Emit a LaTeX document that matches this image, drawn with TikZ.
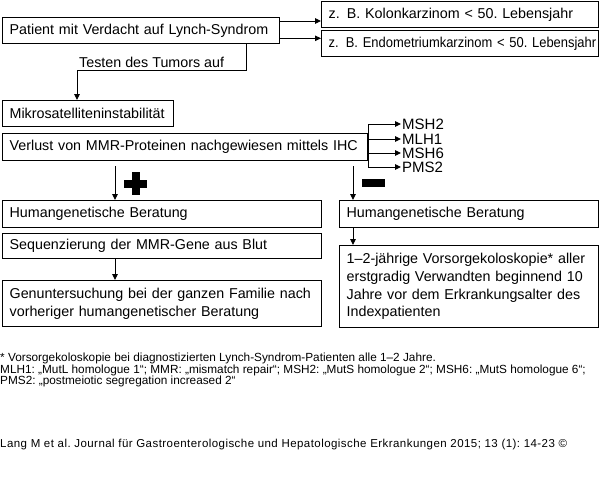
\documentclass[tikz,border=0pt]{standalone}
\usepackage{fontspec}
\setmainfont{Liberation Sans}
\usepackage{tikz}
\usetikzlibrary{arrows.meta,calc}
\frenchspacing

\tikzset{
  box/.style={draw, line width=1.3pt, anchor=north west, align=left,
    inner xsep=7pt, inner ysep=0pt, font=\fontsize{14.3}{17.6}\selectfont},
  arr/.style={line width=0.9pt, -{Triangle[length=6pt,width=5.5pt]}},
  gene/.style={anchor=west, inner sep=1pt, font=\fontsize{15}{15}\selectfont}
}

\begin{document}
\begin{tikzpicture}[x=1pt,y=-1pt]
    \useasboundingbox (0,0) rectangle (600,479);
    % Kasten
    \node [box, text width=263pt, minimum height=26pt] (patient) at (2,17) {Patient mit Verdacht auf Lynch-Syndrom};
    \node [box, text width=263pt, minimum height=26pt] (kolon) at (321,1) {z.\,\ B. Kolonkarzinom < 50. Lebensjahr};
    \node [box, text width=263pt, minimum height=26pt, font=\fontsize{14.3}{15}\selectfont\addfontfeature{FakeStretch=0.905}] (endo) at (321,30) {\mbox{z.\,\ B. Endometriumkarzinom < 50. Lebensjahr}};
    \node [box, text width=157pt, minimum height=26pt] (mikro) at (2,100) {Mikrosatelliteninstabilität};
    \node [box, text width=351pt, minimum height=27pt] (verlust) at (2,133) {Verlust von MMR-Proteinen nachgewiesen mittels IHC};
    \node [box, text width=305pt, minimum height=27pt] (hgL) at (2,200) {Humangenetische Beratung};
    \node [box, text width=305pt, minimum height=25pt] (seq) at (2,233) {Sequenzierung der MMR-Gene aus Blut};
    \node [box, text width=305pt, minimum height=46pt] (gen) at (2,280) {Genuntersuchung bei der ganzen Familie nach\\vorheriger humangenetischer Beratung};
    \node [box, text width=245pt, minimum height=27pt] (hgR) at (339,200) {Humangenetische Beratung};
    \node [box, text width=245pt, minimum height=82pt] (vors) at (339,245) {1–2-jährige Vorsorgekoloskopie* aller\\erstgradig Verwandten beginnend 10\\Jahre vor dem Erkrankungsalter des\\Indexpatienten};

    % Proteine
    \node [gene] (msh2) at (401,124) {MSH2};
    \node [gene] (mlh1) at (401,139) {MLH1};
    \node [gene] (msh6) at (401,153) {MSH6};
    \node [gene] (pms2) at (401,167) {PMS2};

    % Pfeile oben
    \coordinate (a1) at ($(patient.north east)+(0,4)$);
    \coordinate (a2) at ($(patient.south east)+(0,-6)$);
    \draw [arr] (a1) -- (a1 -| kolon.west);
    \draw [arr] (a2) -- (a2 -| endo.west);
    \coordinate (t1) at (246,70);
    \coordinate (t2) at (77,70);
    \draw [arr] (patient.south -| t1) -- (t1) -- (t2) -- (t2 |- mikro.north);
    \node [anchor=base west, inner sep=0pt, font=\fontsize{14.3}{15}\selectfont] (testen) at (79,67) {Testen des Tumors auf};

    % IHC
    \coordinate (tr) at (368,0);
    \draw [line width=0.9pt] (tr |- msh2) -- (tr |- pms2);
    \foreach \g in {msh2,mlh1,msh6,pms2}
      \draw [arr] (tr |- \g) -- (\g.west);

    % plus / minus
    \coordinate (p1) at ($(verlust.south west)+(113,5)$);
    \coordinate (m1) at ($(verlust.south west)+(351,5)$);
    \draw [arr] (p1) -- (p1 |- hgL.north);
    \draw [arr] (m1) -- (m1 |- hgR.north);
    \fill (124,179.5) rectangle (147,187.5);
    \fill (131.5,172) rectangle (139.5,195);
    \fill (362,179) rectangle (385,187);

    \draw [arr] (seq.south -| p1) -- (gen.north -| p1);
    \draw [arr] (hgR.south -| m1) -- (vors.north -| m1);

    % Fussnoten
    \node [anchor=north west, align=left, inner sep=0pt, font=\fontsize{11.8}{11.5}\selectfont] (fuss) at (0,353) {* Vorsorgekoloskopie bei diagnostizierten Lynch-Syndrom-Patienten alle 1–2 Jahre.\\MLH1: „MutL homologue 1“; MMR: „mismatch repair“; MSH2: „MutS homologue 2“; MSH6: „MutS homologue 6“;\\PMS2: „postmeiotic segregation increased 2“};
    \node [anchor=west, inner sep=0pt, font=\fontsize{11.5}{12}\selectfont\addfontfeature{LetterSpace=3.9}] (quelle) at (0,445) {Lang M et al. Journal für Gastroenterologische und Hepatologische Erkrankungen 2015; 13 (1): 14-23 ©};
  \end{tikzpicture}
\end{document}
